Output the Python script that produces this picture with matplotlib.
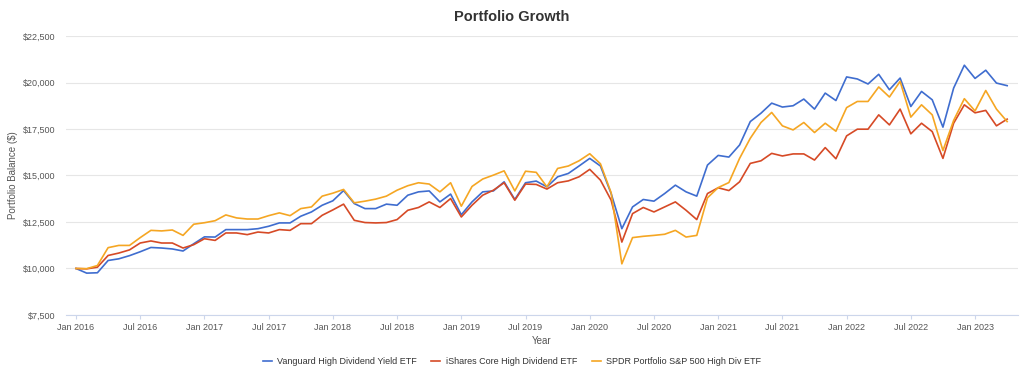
import numpy as np
import matplotlib.pyplot as plt
from matplotlib.ticker import FuncFormatter

plt.rcParams['font.family'] = ['Liberation Sans', 'DejaVu Sans']

# monthly balances, Jan 2016 .. Apr 2023
vanguard = [10000, 9750, 9770, 10430, 10520, 10690, 10900, 11130, 11100, 11050, 10940, 11330,
            11700, 11690, 12090, 12090, 12090, 12140, 12270, 12450, 12450, 12810, 13040, 13400,
            13640, 14190, 13490, 13220, 13220, 13460, 13400, 13940, 14120, 14170, 13580, 14000,
            12890, 13580, 14120, 14170, 14660, 13710, 14610, 14700, 14390, 14930, 15110, 15510,
            15920, 15510, 14030, 12140, 13310, 13710, 13620, 14030, 14480, 14120, 13890, 15560,
            16080, 15990, 16640, 17900, 18350, 18890, 18680, 18750, 19110, 18570, 19430, 19030,
            20300, 20190, 19920, 20440, 19610, 20240, 18710, 19520, 19070, 17600, 19700, 20930,
            20220, 20660, 19970, 19830]
ishares = [10000, 9980, 10070, 10700, 10830, 11000, 11370, 11480, 11370, 11370, 11100, 11280,
           11600, 11510, 11910, 11910, 11820, 11960, 11910, 12090, 12050, 12410, 12410, 12860,
           13150, 13460, 12590, 12470, 12450, 12470, 12630, 13130, 13280, 13580, 13280, 13760,
           12770, 13400, 13940, 14210, 14610, 13670, 14540, 14520, 14270, 14610, 14710, 14930,
           15330, 14750, 13670, 11420, 12950, 13280, 13040, 13310, 13580, 13130, 12630, 14030,
           14340, 14190, 14660, 15650, 15790, 16190, 16050, 16160, 16160, 15830, 16500, 15900,
           17130, 17490, 17490, 18260, 17720, 18570, 17240, 17810, 17360, 15920, 17810, 18800,
           18370, 18500, 17670, 18030]
spdr = [10000, 9990, 10160, 11120, 11240, 11240, 11660, 12050, 12020, 12070, 11780, 12380,
        12460, 12570, 12880, 12720, 12660, 12660, 12840, 12990, 12840, 13220, 13310, 13890,
        14050, 14250, 13530, 13620, 13730, 13890, 14210, 14450, 14610, 14540, 14120, 14610,
        13350, 14410, 14810, 15020, 15250, 14170, 15230, 15170, 14390, 15380, 15510, 15790,
        16170, 15630, 14070, 10250, 11660, 11730, 11780, 11840, 12050, 11690, 11780, 13800,
        14350, 14620, 15920, 17000, 17850, 18390, 17670, 17450, 17850, 17310, 17810, 17380,
        18650, 18980, 18980, 19760, 19220, 20060, 18140, 18800, 18260, 16340, 17960, 19130,
        18470, 19570, 18570, 17900]

names = ["Vanguard High Dividend Yield ETF", "iShares Core High Dividend ETF",
         "SPDR Portfolio S&P 500 High Div ETF"]
colors = ['#3f6dcf', '#d64a26', '#f5a623']
tick_labels = ["Jan 2016", "Jul 2016", "Jan 2017", "Jul 2017", "Jan 2018", "Jul 2018",
               "Jan 2019", "Jul 2019", "Jan 2020", "Jul 2020", "Jan 2021", "Jul 2021",
               "Jan 2022", "Jul 2022", "Jan 2023"]
y_ticks = [7500, 10000, 12500, 15000, 17500, 20000, 22500]

months = np.arange(len(vanguard))

fig = plt.figure(figsize=(10.24, 3.77), dpi=100)
ax = fig.add_axes([0.0645, 0.1645, 0.9295, 0.74])

for series, name, c in zip([vanguard, ishares, spdr], names, colors):
    ax.plot(months, series, color=c, linewidth=1.2, label=name)

ax.set_xlim(-0.93, 88.0)
ax.set_ylim(7500, 22500)
ax.set_yticks(y_ticks)
ax.yaxis.set_major_formatter(FuncFormatter(lambda v, p: f"${v:,.0f}"))
ax.set_xticks(np.arange(len(tick_labels)) * 6)
ax.set_xticklabels(tick_labels)

ax.grid(axis='y', color='#e6e6e6', linewidth=0.8)
ax.set_axisbelow(True)
for side in ['top', 'right', 'left']:
    ax.spines[side].set_visible(False)
ax.spines['bottom'].set_color('#ccd6eb')
ax.spines['bottom'].set_linewidth(0.8)
ax.tick_params(axis='y', length=0, labelsize=6.5, labelcolor='#555555', pad=8)
ax.tick_params(axis='x', length=3, color='#ccd6eb', labelsize=6.5, labelcolor='#555555', pad=3)

ax.set_xlabel("Year", fontsize=7, color='#555555', labelpad=3)
ax.set_ylabel("Portfolio Balance ($)", fontsize=7, color='#555555', labelpad=3)
fig.text(0.5, 0.955, "Portfolio Growth", ha='center', va='center',
         fontsize=10.5, fontweight='bold', color='#333333')

fig.legend(loc='center', bbox_to_anchor=(0.5, 0.04), ncol=3, frameon=False,
           fontsize=6.5, handlelength=1.0, columnspacing=1.6, handletextpad=0.6,
           labelcolor='#333333')

fig.savefig("out.png", dpi=100)
